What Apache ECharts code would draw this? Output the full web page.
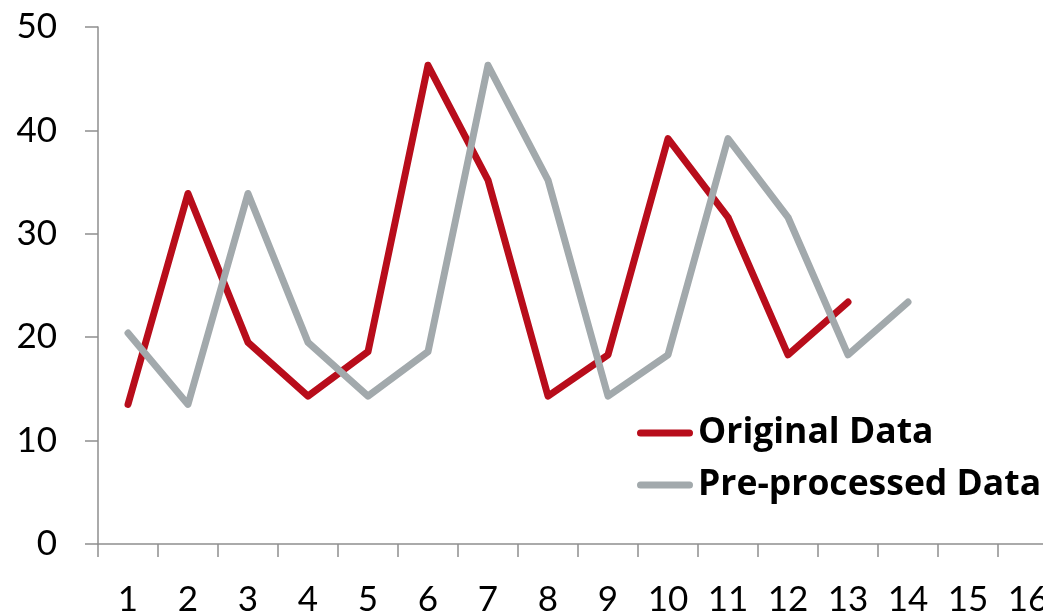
<!DOCTYPE html>
<html>
<head>
<meta charset="utf-8">
<script src="https://cdn.jsdelivr.net/npm/echarts@6/dist/echarts.min.js"></script>
<style>
  html, body { margin: 0; padding: 0; background: #ffffff; }
  #chart { width: 1043px; height: 616px; }
</style>
</head>
<body>
<div id="chart"></div>
<script>
// Sample index along the x axis
const categories = ['1','2','3','4','5','6','7','8','9','10','11','12','13','14','15','16'];
// Raw series values
const originalData = [13.5, 33.9, 19.5, 14.3, 18.6, 46.3, 35.2, 14.3, 18.3, 39.2, 31.6, 18.3, 23.4];
// Series after pre-processing
const preprocessedData = [20.4, 13.5, 33.9, 19.5, 14.3, 18.6, 46.3, 35.2, 14.3, 18.3, 39.2, 31.6, 18.3, 23.4];

const RED = '#B80D1B';
const GREY = '#A2A9AC';
const AXIS = '#8E8E8E';
const FONT = 'Lato';

const capsule = 'path://M3.5,0 L52.5,0 A3.5,3.5 0 0 1 52.5,7 L3.5,7 A3.5,3.5 0 0 1 3.5,0 Z';

const chart = echarts.init(document.getElementById('chart'), null, { renderer: 'canvas' });
chart.setOption({
  animation: false,
  backgroundColor: '#ffffff',
  // plot area runs past the right edge of the canvas, so the last label is cut
  grid: { left: 98, width: 960, top: 27, bottom: 72, containLabel: false, outerBoundsMode: 'none' },
  legend: {
    orient: 'vertical',
    left: 637,
    top: 415,
    padding: 0,
    itemWidth: 56,
    itemHeight: 7,
    itemGap: 16,
    textStyle: { fontFamily: 'Open Sans', fontWeight: 'bold', fontSize: 35.5, lineHeight: 36, color: '#000000' },
    data: [
      { name: 'Original Data', icon: capsule },
      { name: 'Pre-processed Data', icon: capsule }
    ]
  },
  xAxis: {
    type: 'category',
    data: categories,
    boundaryGap: true,
    axisLine: { show: true, lineStyle: { color: AXIS, width: 1.5 } },
    axisTick: { show: true, length: 13, inside: false, alignWithLabel: false, lineStyle: { color: AXIS, width: 1.5 } },
    axisLabel: { margin: 38, fontFamily: FONT, fontSize: 35, color: '#000000', interval: 0, hideOverlap: false },
    splitLine: { show: false }
  },
  yAxis: {
    type: 'value',
    min: 0,
    max: 50,
    interval: 10,
    axisLine: { show: true, lineStyle: { color: AXIS, width: 1.5 } },
    axisTick: { show: true, length: 13, lineStyle: { color: AXIS, width: 1.5 } },
    axisLabel: { margin: 41, fontFamily: FONT, fontSize: 35, color: '#000000' },
    splitLine: { show: false }
  },
  series: [
    {
      name: 'Original Data',
      type: 'line',
      data: originalData,
      symbol: 'none',
      itemStyle: { color: RED },
      lineStyle: { color: RED, width: 7, cap: 'round', join: 'round' }
    },
    {
      name: 'Pre-processed Data',
      type: 'line',
      data: preprocessedData,
      symbol: 'none',
      itemStyle: { color: GREY },
      lineStyle: { color: GREY, width: 7, cap: 'round', join: 'round' }
    }
  ]
});
</script>
</body>
</html>
